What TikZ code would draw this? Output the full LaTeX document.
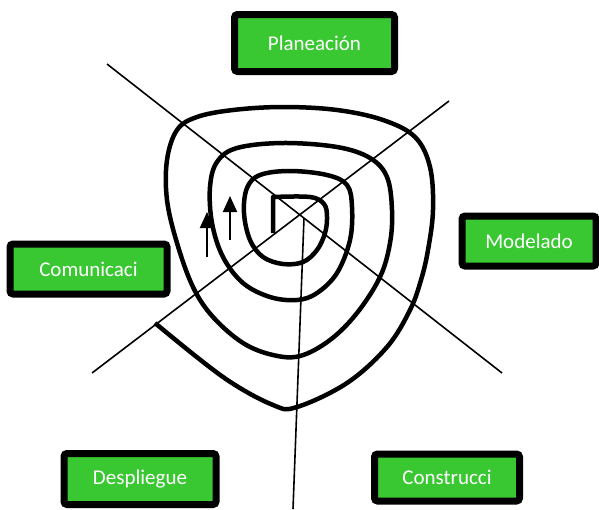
\documentclass[tikz,border=0pt]{standalone}
\usepackage{fontspec}
\setmainfont{Carlito}
\usetikzlibrary{arrows.meta,shadows}
\definecolor{boxgreen}{RGB}{57,200,50}

\begin{document}
\begin{tikzpicture}[x=1pt,y=-1pt,
    etapa/.style={draw=black,line width=7pt,fill=boxgreen,rounded corners=3pt,
      text=white,font=\fontsize{21}{25}\selectfont,inner sep=0pt,
      drop shadow={shadow xshift=2pt,shadow yshift=-2pt,fill=black!25,opacity=0.6}},
    radio/.style={line width=1.6pt},
    espiral/.style={line width=4.5pt,line join=round},
    flecha/.style={line width=2pt,-{Triangle[length=16pt,width=14pt]}}]
  \useasboundingbox (0,0) rectangle (599,509);

  % the five stages
  \node[etapa,minimum width=160pt,minimum height=57pt] (planeacion) at (314.5,43) {Planeación};
  \node[etapa,minimum width=134pt,minimum height=50pt] (modelado) at (529,241) {Modelado};
  \node[etapa,minimum width=157pt,minimum height=50pt] (comunicacion) at (88.5,269) {Comunicaci};
  \node[etapa,minimum width=152pt,minimum height=51pt] (despliegue) at (140,479) {Despliegue};
  \node[etapa,minimum width=145pt,minimum height=47pt] (construccion) at (447,477.5) {Construcci};

  % radial lines
  \coordinate (nw) at (107,64);
  \coordinate (se) at (502,373);
  \coordinate (ne) at (449,101);
  \coordinate (sw) at (92,373);
  \coordinate (cen) at (304,218);
  \coordinate (bot) at (293,509);
  \draw[radio] (nw) -- (se);
  \draw[radio] (ne) -- (sw);
  \draw[radio] (cen) -- (bot);

  % spiral
  \draw[espiral] (273,233) -- plot[smooth,tension=0.6] coordinates {(273,197) (310,197)
    (324,204) (327,217) (325,233) (317,250) (303,262) (283,264) (263,257) (250,240)
    (244,213) (247,188) (260,175) (290,171) (327,175) (347,185) (352,207) (350,240)
    (337,273) (317,293) (297,300) (270,297) (243,283) (223,257) (212,223) (210,187)
    (217,162) (237,148) (283,143) (337,147) (370,158) (387,177) (392,210) (390,243)
    (380,277) (357,313) (330,340) (300,356) (273,355) (243,343) (213,317) (193,287)
    (177,243) (167,200) (167,160) (177,130) (197,117) (233,110) (283,107) (337,110)
    (383,120) (415,137) (430,167) (433,210) (428,250) (421,280) (410,310) (387,347)
    (347,383) (297,407) (273,405) (223,377) (155,323)};

  % arrows
  \coordinate (f1) at (207,257);
  \coordinate (f1t) at (207,212);
  \coordinate (f2) at (230,240);
  \coordinate (f2t) at (230,196);
  \draw[flecha] (f1) -- (f1t);
  \draw[flecha] (f2) -- (f2t);
\end{tikzpicture}
\end{document}
